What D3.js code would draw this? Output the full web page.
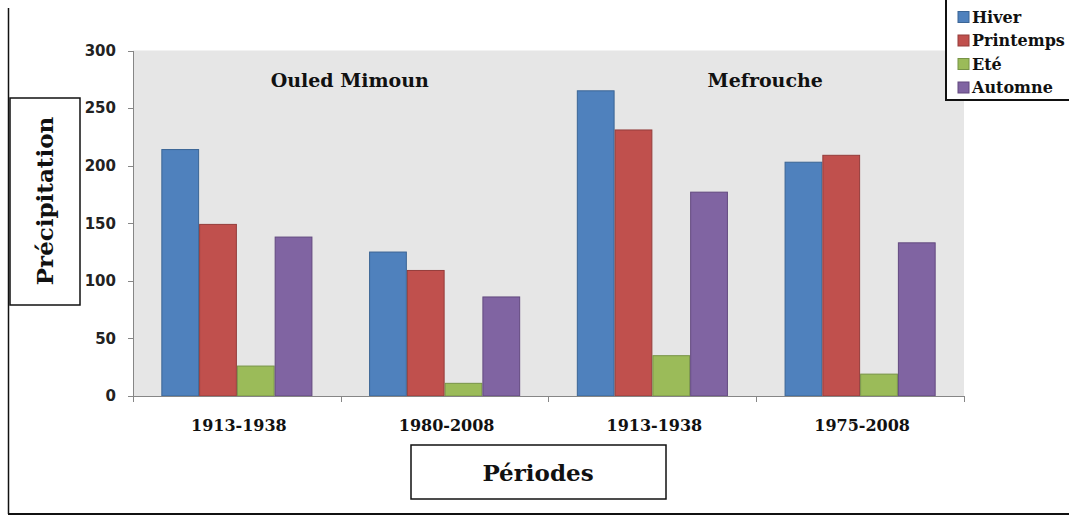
<!DOCTYPE html>
<meta charset="utf-8">
<style>
body { margin: 0; background: #fff; }
svg { display: block; }
.axis path, .axis line { stroke: #868686; shape-rendering: crispEdges; }
.yaxis text { font: bold 15px "DejaVu Sans", sans-serif; fill: #222; }
.xlab { font: bold 16px "DejaVu Serif", serif; fill: #111; text-anchor: middle; }
.site { font: bold 19px "DejaVu Serif", serif; fill: #111; text-anchor: middle; }
.atitle { font: bold 23px "DejaVu Serif", serif; fill: #111; text-anchor: middle; }
.legend text { font: bold 16px "DejaVu Serif", serif; fill: #111; }
.box { fill: #fff; stroke: #111; stroke-width: 1.5px; }
</style>
<svg width="1069" height="518"></svg>
<script src="https://cdnjs.cloudflare.com/ajax/libs/d3/7.8.5/d3.min.js"></script>
<script>

var periods = ["1913-1938", "1980-2008", "1913-1938", "1975-2008"];
var seasons = ["Hiver", "Printemps", "Eté", "Automne"];
var colors = ["#4f81bd", "#c0504d", "#9bbb59", "#8064a2"];
var strokes = ["#3b6595", "#943c3a", "#779346", "#62497f"];

// one array per season, one value per period
var hiver     = [214, 125, 265, 203];
var printemps = [149, 109, 231, 209];
var ete       = [26, 11, 35, 19];
var automne   = [138, 86, 177, 133];

var sites = ["Ouled Mimoun", "Mefrouche"];
var yTicks = [0, 50, 100, 150, 200, 250, 300];

var series = [hiver, printemps, ete, automne];

var svg = d3.select("svg");

// outer frame (left + bottom only visible)
svg.append("line").attr("x1", 8.5).attr("x2", 8.5).attr("y1", 8).attr("y2", 514)
    .attr("stroke", "#111").attr("stroke-width", 1.5);
svg.append("line").attr("x1", 8).attr("x2", 1069).attr("y1", 514).attr("y2", 514)
    .attr("stroke", "#111").attr("stroke-width", 2);

var pLeft = 133, pRight = 964, pTop = 50.5, pBottom = 396;

var x0 = d3.scaleBand()
    .domain(d3.range(periods.length))
    .range([pLeft, pRight])
    .paddingInner(0.2727)
    .paddingOuter(0.1364);

var x1 = d3.scaleBand()
    .domain(d3.range(seasons.length))
    .range([0, x0.bandwidth()]);

var y = d3.scaleLinear().domain([0, 300]).range([pBottom, pTop]);

// plot area
svg.append("rect")
    .attr("x", pLeft).attr("y", pTop)
    .attr("width", pRight - pLeft).attr("height", pBottom - pTop)
    .attr("fill", "#e6e6e6");

// y axis
svg.append("g")
    .attr("class", "axis yaxis")
    .attr("transform", "translate(" + pLeft + ",0)")
    .call(d3.axisLeft(y).tickValues(yTicks).tickSize(5).tickSizeOuter(0).tickPadding(12));

// bars
var groups = svg.append("g").selectAll("g")
    .data(periods)
    .enter().append("g")
    .attr("transform", function(d, i) { return "translate(" + x0(i) + ",0)"; });

groups.selectAll("rect")
    .data(function(d, i) { return series.map(function(s, j) { return { s: j, v: s[i] }; }); })
    .enter().append("rect")
    .attr("x", function(d) { return x1(d.s) + 0.5; })
    .attr("width", x1.bandwidth() - 1)
    .attr("y", function(d) { return y(d.v); })
    .attr("height", function(d) { return y(0) - y(d.v); })
    .attr("fill", function(d) { return colors[d.s]; })
    .attr("stroke", function(d) { return strokes[d.s]; })
    .attr("stroke-width", 1);

// x axis line and boundary ticks
var xa = svg.append("g").attr("class", "axis");
xa.append("line").attr("x1", pLeft).attr("x2", pRight).attr("y1", pBottom + 0.5).attr("y2", pBottom + 0.5);
d3.range(periods.length + 1).forEach(function(i) {
    var xx = Math.round(pLeft + i * x0.step()) + 0.5;
    xa.append("line").attr("x1", xx).attr("x2", xx).attr("y1", pBottom).attr("y2", pBottom + 6);
});

svg.append("g").selectAll("text")
    .data(periods)
    .enter().append("text")
    .attr("class", "xlab")
    .attr("x", function(d, i) { return x0(i) + x0.bandwidth() / 2 + 2; })
    .attr("y", 431)
    .text(function(d) { return d; });

// site titles, centred over each pair of periods
svg.append("g").selectAll("text")
    .data(sites)
    .enter().append("text")
    .attr("class", "site")
    .attr("x", function(d, i) { return pLeft + (2 * i + 1) * x0.step() + 9; })
    .attr("y", 87)
    .text(function(d) { return d; });

// axis titles in boxes
svg.append("rect").attr("class", "box").attr("x", 10).attr("y", 98).attr("width", 70).attr("height", 207);
svg.append("text").attr("class", "atitle")
    .attr("transform", "translate(53,201) rotate(-90)")
    .text("Précipitation");

svg.append("rect").attr("class", "box").attr("x", 411).attr("y", 445).attr("width", 255).attr("height", 54);
svg.append("text").attr("class", "atitle")
    .attr("x", 538).attr("y", 481)
    .text("Périodes");

// legend
var lg = svg.append("g").attr("class", "legend");
lg.append("rect").attr("x", 946).attr("y", -5).attr("width", 200).attr("height", 105)
    .attr("fill", "#fff").attr("stroke", "#111").attr("stroke-width", 2);

var items = lg.selectAll("g.item")
    .data(seasons)
    .enter().append("g")
    .attr("class", "item")
    .attr("transform", function(d, i) { return "translate(958," + (17 + i * 23.5) + ")"; });

items.append("rect")
    .attr("x", 0).attr("y", -5.5).attr("width", 11).attr("height", 11)
    .attr("fill", function(d, i) { return colors[i]; })
    .attr("stroke", function(d, i) { return strokes[i]; });

items.append("text")
    .attr("x", 14).attr("dy", "0.35em")
    .text(function(d) { return d; });

</script>
